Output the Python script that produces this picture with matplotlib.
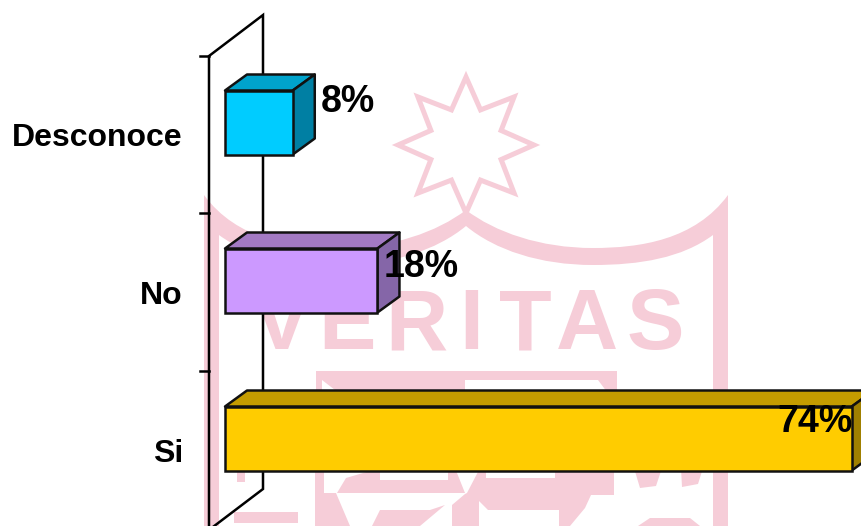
import numpy as np
import matplotlib
matplotlib.use("Agg")
import matplotlib.pyplot as plt
from matplotlib.patches import Polygon, PathPatch, Rectangle
from matplotlib.path import Path

categories = ["Desconoce", "No", "Si"]
values = [8, 18, 74]
value_labels = ["8%", "18%", "74%"]
front_colors = ["#00CCFF", "#CC99FF", "#FFCC00"]
top_colors = ["#00A3CC", "#A37AC4", "#C49C00"]
side_colors = ["#007FA3", "#8566A8", "#A08000"]
label_offsets = [(28, 20, "left"), (6, 13.5, "left"), (1, 16, "right")]

W, H = 862, 526
PINK = "#F6CDD8"
fig = plt.figure(figsize=(W / 100, H / 100), dpi=100, facecolor="white")

# Watermark layer, in image pixels
bg = fig.add_axes([0, 0, 1, 1], zorder=0)
bg.set_xlim(0, W); bg.set_ylim(H, 0); bg.axis("off")

cx, cy = 466, 145
ang = np.deg2rad(np.arange(16) * 22.5 - 90)
rad = np.where(np.arange(16) % 2 == 0, 68, 38)
bg.add_patch(Polygon(np.c_[cx + rad * np.cos(ang), cy + rad * np.sin(ang)], closed=True,
                     fill=False, ec=PINK, lw=3.6, joinstyle="miter"))

band = [(728, 195),
        (695, 240), (640, 248), (593, 248),
        (540, 248), (495, 232), (466, 210),
        (437, 232), (392, 248), (339, 248),
        (292, 248), (237, 240), (204, 195),
        (204, 526), (219, 526), (219, 235),
        (250, 258), (295, 265), (339, 265),
        (392, 265), (437, 250), (466, 226),
        (495, 250), (540, 265), (593, 265),
        (640, 265), (682, 258), (713, 235),
        (713, 526), (728, 526), (728, 195)]
codes = [Path.MOVETO] + [Path.CURVE4] * 12 + [Path.LINETO] * 3 + [Path.CURVE4] * 12 + \
        [Path.LINETO] * 2 + [Path.CLOSEPOLY]
bg.add_patch(PathPatch(Path(band, codes), fc=PINK, ec="none"))

for ch, x in zip("VERITAS", [281, 347, 416, 471, 525, 587, 655]):
    bg.text(x, 349, ch, color=PINK, fontsize=62, ha="center", va="baseline",
            family="Liberation Sans", fontweight="bold")

# Inner emblem
shapes = [
    [(316, 371), (617, 371), (617, 395), (607, 395), (607, 380), (465, 380), (465, 395), (316, 395)],
    [(315, 468), (324, 468), (324, 493), (336, 493), (350, 526), (315, 526)],
    [(337, 493), (346, 478), (380, 468), (380, 480), (448, 480), (448, 468), (455, 468), (465, 493)],
    [(467, 493), (480, 468), (486, 468), (486, 478), (555, 478), (555, 468), (614, 468), (614, 495), (591, 495),
     (585, 508), (570, 526), (559, 526), (559, 510), (488, 510), (479, 501), (479, 526), (452, 526), (452, 505),
     (465, 494)],
    [(372, 526), (380, 510), (430, 510), (445, 505), (420, 526)],
    [(234, 512), (298, 512), (298, 523), (234, 523)],
    [(237, 470), (245, 470), (245, 482), (237, 482)],
    [(634, 468), (662, 468), (656, 486), (640, 488)],
    [(681, 468), (703, 468), (698, 484), (682, 487)],
    [(638, 526), (650, 518), (690, 518), (700, 526)],
]
for s in shapes:
    bg.add_patch(Polygon(s, closed=True, fc=PINK, ec="none"))
bg.add_patch(Polygon([(322, 380), (335, 390), (322, 395)], closed=True, fc="white", ec="none"))
bg.add_patch(Polygon([(607, 380), (598, 380), (607, 392)], closed=True, fc=PINK, ec="none"))

# Chart layer: x in percent, y in category positions
X0, PX_PER_PCT = 225.0, 8.47
Y0, PX_PER_CAT = 122.5, 158.0
ax = fig.add_axes([0, 0, 1, 1], zorder=1)
ax.patch.set_alpha(0)
ax.set_xlim(-X0 / PX_PER_PCT, (W - X0) / PX_PER_PCT)
ax.set_ylim((H - Y0) / PX_PER_CAT, -Y0 / PX_PER_CAT)
ax.axis("off")
dxv = 22 / PX_PER_PCT
dyv = 16 / PX_PER_CAT
half = 32 / PX_PER_CAT
fx = lambda px: (px - X0) / PX_PER_PCT
fy = lambda py: (py - Y0) / PX_PER_CAT
LW = 1.8

# 3-D walls
ax.plot([fx(209), fx(209), fx(263), fx(263), fx(205)],
        [fy(540), fy(56), fy(15), fy(489), fy(533)], color="black", lw=LW, zorder=2,
        solid_joinstyle="miter")
for py in [56, 213, 371]:
    ax.plot([fx(200), fx(209)], [fy(py), fy(py)], color="black", lw=LW, zorder=2)

# Bars
for i, (cat, v) in enumerate(zip(categories, values)):
    kw = dict(closed=True, ec="#111111", lw=LW, zorder=3, joinstyle="round")
    ax.add_patch(Polygon([(0, i - half), (v, i - half), (v + dxv, i - half - dyv), (dxv, i - half - dyv)],
                         fc=top_colors[i], **kw))
    ax.add_patch(Polygon([(v, i - half), (v + dxv, i - half - dyv), (v + dxv, i + half - dyv), (v, i + half)],
                         fc=side_colors[i], **kw))
    ax.add_patch(Rectangle((0, i - half), v, 2 * half, fc=front_colors[i], ec="#111111", lw=LW, zorder=4))
    ax.annotate(cat, xy=(0, i), xytext=(-42 * 0.72, -16 * 0.72), textcoords="offset points",
                ha="right", va="center", fontsize=23, fontweight="bold",
                family="Liberation Sans", color="black", zorder=5)
    off, up, ha = label_offsets[i]
    ax.annotate(value_labels[i], xy=(v, i), xytext=(off * 0.72, up * 0.72),
                textcoords="offset points", ha=ha, va="center",
                fontsize=27, fontweight="bold", family="Liberation Sans", color="black", zorder=5)

fig.savefig("out.png", dpi=100)
